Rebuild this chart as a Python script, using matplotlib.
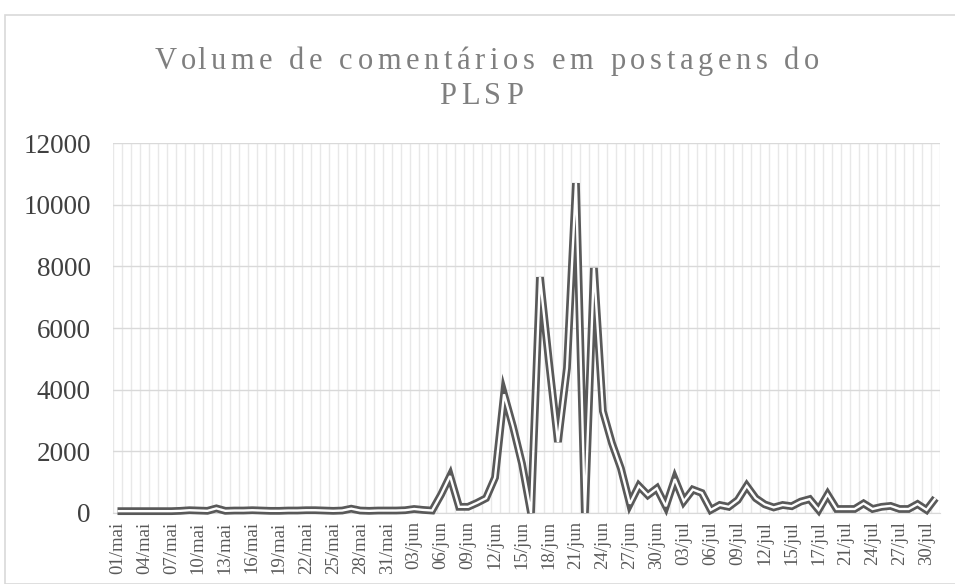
import matplotlib
matplotlib.use("Agg")
import matplotlib.pyplot as plt
from matplotlib.patches import Rectangle
from matplotlib.ticker import FixedLocator

# Dias (eixo de categorias) - julho tem datas repetidas/faltando no original
dias = [f"{d:02d}/mai" for d in range(1, 32)] + [f"{d:02d}/jun" for d in range(1, 31)]
dias += [f"{d:02d}/jul" for d in range(1, 17)]
dias += ["16/jul", "17/jul", "18/jul", "20/jul"]
dias += [f"{d:02d}/jul" for d in range(21, 32)]

# Volume de comentarios por dia
comentarios_mai = [60, 60, 60, 60, 60, 60, 60, 70, 90, 80,
                   70, 150, 70, 80, 80, 90, 80, 70, 70, 80,
                   80, 90, 90, 80, 70, 80, 140, 80, 70, 80, 80]
comentarios_jun = [80, 90, 130, 100, 80, 600, 1200, 200, 200, 330,
                   480, 1150, 3850, 2800, 1600, 0, 7650, 4900, 2300, 4700,
                   10700, 0, 7950, 3300, 2270, 1450, 300, 880, 580, 800]
comentarios_jul = [220, 1100, 380, 760, 650, 100, 260, 200, 420, 880,
                   480, 280, 180, 260, 220, 370, 450, 100, 600, 130,
                   130, 130, 310, 130, 200, 230, 130, 130, 290, 100, 480]
comentarios = comentarios_mai + comentarios_jun + comentarios_jul

titulo = ["Volume de comentários em postagens do", "PLSP"]

W, H = 955, 584
fig = plt.figure(figsize=(W / 100, H / 100), dpi=100)
fig.patch.set_facecolor("white")

# borda do grafico
fig.patches.append(Rectangle((5 / W, 0), 1.0, 1 - 15 / H, transform=fig.transFigure,
                             fill=False, edgecolor="#d9d9d9", linewidth=1.2, clip_on=False))

ax = fig.add_axes([113 / W, (H - 513) / H, (940 - 113) / W, (513 - 143) / H])
x = list(range(len(dias)))

ax.plot(x, comentarios, color="#595959", linewidth=5.6, solid_joinstyle="miter",
        solid_capstyle="butt", clip_on=False, zorder=3)
ax.plot(x, comentarios, color="white", linewidth=1.7, solid_joinstyle="miter",
        solid_capstyle="butt", clip_on=False, zorder=4)

ax.set_xlim(-0.5, len(dias) - 0.5)
ax.set_ylim(0, 12000)
ax.set_yticks(range(0, 12001, 2000))
ax.set_xticks(x[::3])
ax.set_xticklabels(dias[::3], rotation=90, fontsize=13.5, family="Liberation Serif",
                   color="#595959")
ax.xaxis.set_minor_locator(FixedLocator([i - 0.5 for i in range(len(dias) + 1)]))
for lab in ax.get_yticklabels():
    lab.set_fontsize(19.5)
    lab.set_family("Liberation Serif")
    lab.set_color("#404040")

ax.grid(axis="y", which="major", color="#d9d9d9", linewidth=1.0)
ax.grid(axis="x", which="minor", color="#e8e8e8", linewidth=1.0)
ax.set_axisbelow(True)
ax.tick_params(axis="both", which="both", length=0)
ax.tick_params(axis="x", pad=6)
ax.tick_params(axis="y", pad=16)
for s in ["top", "right", "left"]:
    ax.spines[s].set_visible(False)
ax.spines["bottom"].set_color("#d9d9d9")

# titulo com espacamento entre letras (como no Excel)
r = fig.canvas.get_renderer()


def largura(s, size):
    t = fig.text(0, 0, s + "|", fontsize=size, family="Liberation Serif")
    w = t.get_window_extent(r).width
    t.remove()
    return w


def titulo_espacado(linha, x_centro, y_base, size, esp):
    barra = largura("", size)
    pos = [largura(linha[:k], size) - barra + k * esp for k in range(len(linha))]
    total = largura(linha, size) - barra + (len(linha) - 1) * esp
    x0 = x_centro - total / 2
    for ch, p in zip(linha, pos):
        fig.text((x0 + p) / W, 1 - y_base / H, ch, fontsize=size, family="Liberation Serif",
                 color="#7f7f7f", ha="left", va="baseline")


tam = 22
nat = largura(titulo[0], tam) - largura("", tam)
esp = (665 - nat) / (len(titulo[0]) - 1)
titulo_espacado(titulo[0], 487, 69, tam, esp)
titulo_espacado(titulo[1], 481, 104, tam, esp)

fig.savefig("out.png", dpi=100)
